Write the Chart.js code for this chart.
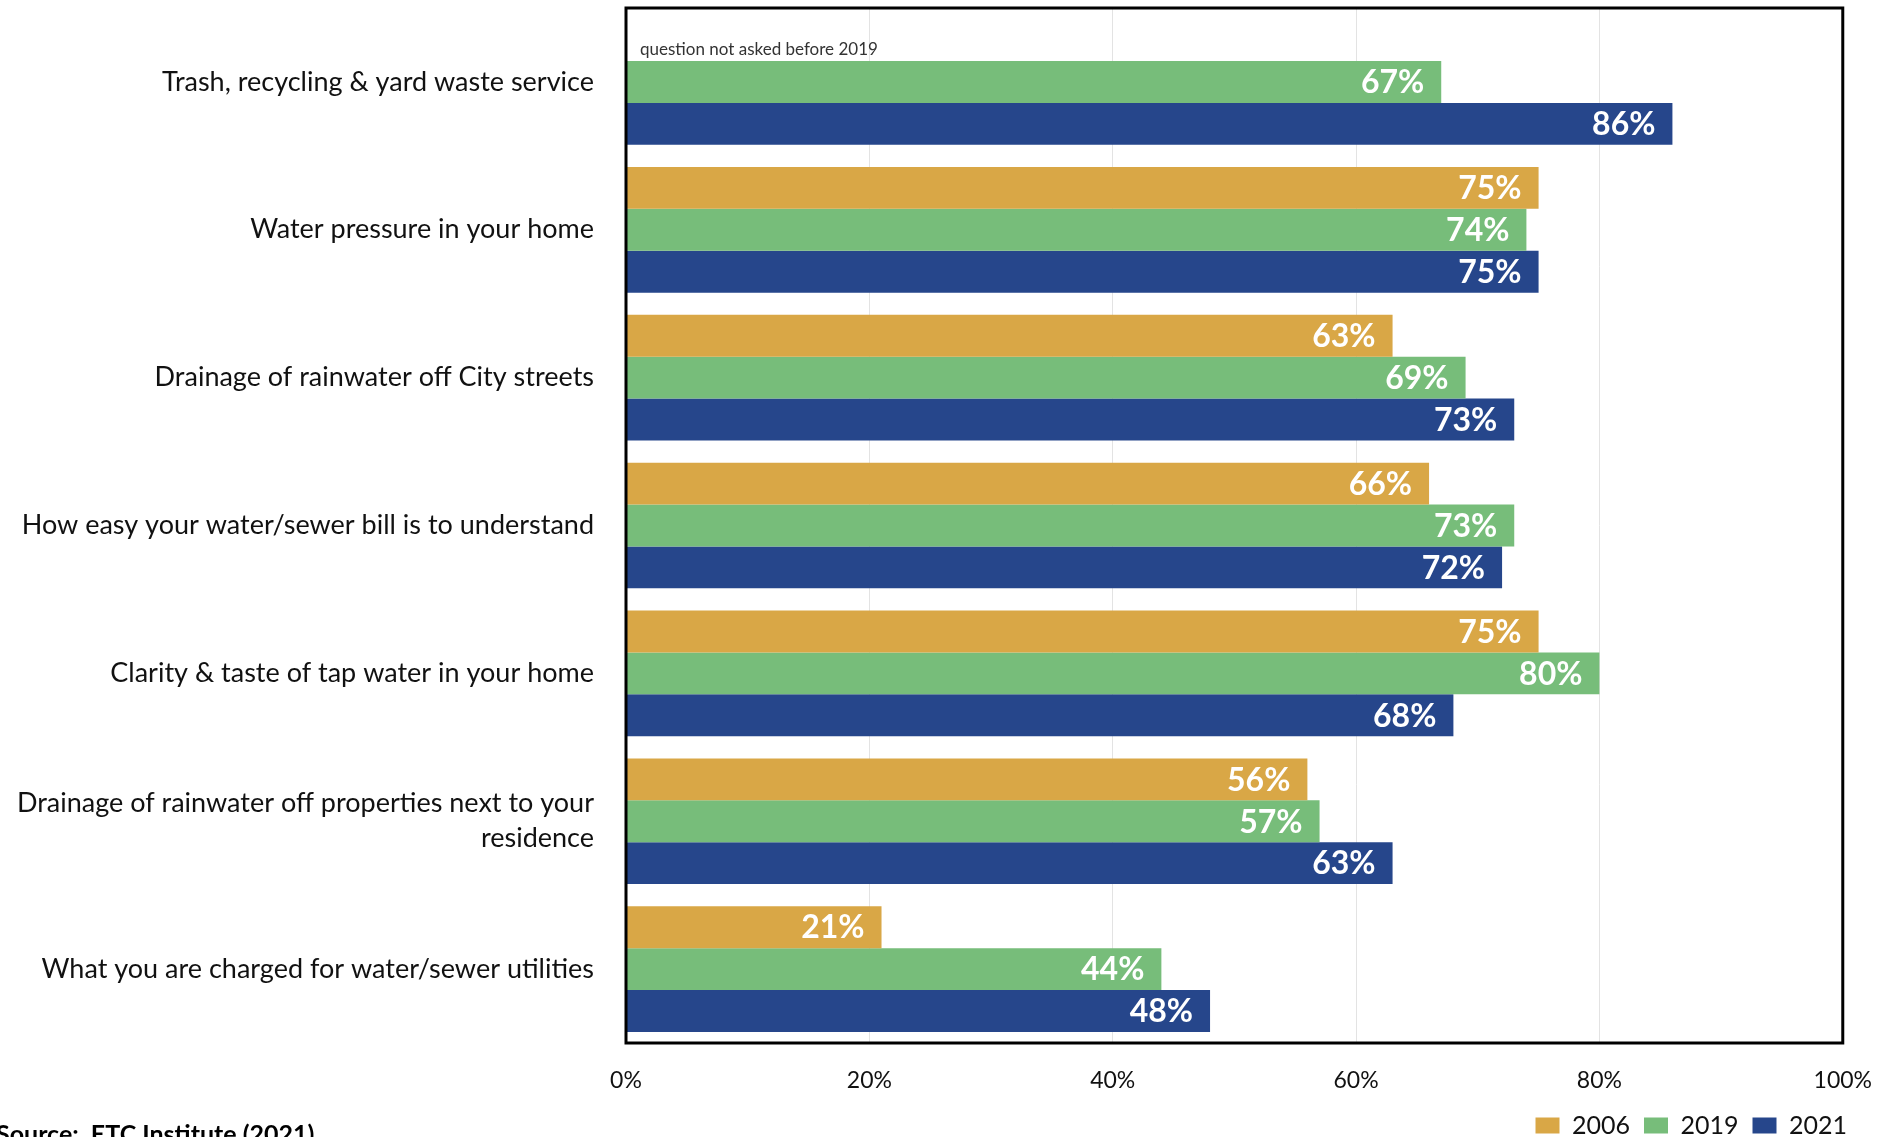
<!DOCTYPE html>
<html>
<head>
<meta charset="utf-8">
<title>Utility services satisfaction</title>
<script src="https://cdn.jsdelivr.net/npm/chart.js@4.4.1/dist/chart.umd.min.js"></script>
<style>
  html, body { margin: 0; padding: 0; background: #fff; }
  #wrap { width: 1896px; height: 1137px; position: relative; }
</style>
</head>
<body>
<div id="wrap"><canvas id="chart"></canvas></div>
<script>
// Services rated, top to bottom
const categories = [
  'Trash, recycling & yard waste service',
  'Water pressure in your home',
  'Drainage of rainwater off City streets',
  'How easy your water/sewer bill is to understand',
  'Clarity & taste of tap water in your home',
  ['Drainage of rainwater off properties next to your', 'residence'],
  'What you are charged for water/sewer utilities',
];

// Percent satisfied by survey year (null = not asked)
const values2006 = [null, 75, 63, 66, 75, 56, 21];
const values2019 = [67, 74, 69, 73, 80, 57, 44];
const values2021 = [86, 75, 73, 72, 68, 63, 48];

const xTicks = [0, 20, 40, 60, 80, 100];

const COLORS = { y2006: '#D9A746', y2019: '#77BD7A', y2021: '#26468B' };
const FONT = 'Lato';

// White value labels inside the end of each bar
const barLabels = {
  id: 'barLabels',
  afterDatasetsDraw(chart) {
    const { ctx } = chart;
    ctx.save();
    ctx.font = `bold 32px ${FONT}`;
    ctx.fillStyle = '#fff';
    ctx.textAlign = 'right';
    ctx.textBaseline = 'middle';
    chart.data.datasets.forEach((ds, i) => {
      const meta = chart.getDatasetMeta(i);
      meta.data.forEach((bar, j) => {
        const v = ds.data[j];
        if (v === null || v === undefined) return;
        ctx.fillText(`${v}%`, bar.x - 17, bar.y + 1);
      });
    });
    ctx.restore();
  },
};

// Push the legend a bit past the plot's right edge
const legendShift = {
  id: 'legendShift',
  afterLayout(chart) {
    if (!chart.legend) return;
    chart.legend.left += 17;
    chart.legend.right += 17;
  },
};

// Plot frame, note and source line
const extras = {
  id: 'extras',
  afterDraw(chart) {
    const { ctx, chartArea: a } = chart;
    ctx.save();
    ctx.strokeStyle = '#000';
    ctx.lineWidth = 3;
    ctx.strokeRect(a.left, a.top, a.right - a.left, a.bottom - a.top);

    const green = chart.getDatasetMeta(1).data[0];
    ctx.font = `17px ${FONT}`;
    ctx.fillStyle = '#333';
    ctx.textAlign = 'left';
    ctx.textBaseline = 'alphabetic';
    ctx.fillText('question not asked before 2019', a.left + 14, green.y - green.height / 2 - 6);

    ctx.font = `bold 25px ${FONT}`;
    ctx.fillStyle = '#000';
    ctx.textBaseline = 'top';
    ctx.fillText('Source:  ETC Institute (2021)', -4, 1122);
    ctx.restore();
  },
};

new Chart(document.getElementById('chart'), {
  type: 'bar',
  data: {
    labels: categories,
    datasets: [
      { label: '2006', data: values2006, backgroundColor: COLORS.y2006 },
      { label: '2019', data: values2019, backgroundColor: COLORS.y2019 },
      { label: '2021', data: values2021, backgroundColor: COLORS.y2021 },
    ],
  },
  options: {
    indexAxis: 'y',
    responsive: true,
    maintainAspectRatio: false,
    animation: false,
    categoryPercentage: 0.85,
    barPercentage: 1.0,
    layout: { padding: { left: 0, right: 52, top: 8, bottom: -11 } },
    scales: {
      x: {
        min: 0,
        max: 100,
        afterBuildTicks: (scale) => { scale.ticks = xTicks.map(v => ({ value: v })); },
        afterFit: (scale) => { scale.height = 56; },
        grid: { color: '#E3E3E3', lineWidth: 1, drawTicks: false },
        border: { display: false },
        ticks: {
          padding: 24,
          color: '#111',
          font: { family: FONT, size: 23 },
          callback: (v) => `${v}%`,
        },
      },
      y: {
        afterFit: (scale) => {
          scale.width = 626;
          scale.paddingTop = 0;
          scale.paddingBottom = 0;
        },
        grid: { display: false, drawTicks: false },
        border: { display: false },
        ticks: {
          padding: 32,
          autoSkip: false,
          color: '#111',
          font: { family: FONT, size: 27, lineHeight: 1.3 },
        },
      },
    },
    plugins: {
      legend: {
        position: 'bottom',
        align: 'end',
        labels: {
          boxWidth: 24,
          boxHeight: 16,
          color: '#111',
          font: { family: FONT, size: 25 },
          padding: 14,
        },
      },
      tooltip: { enabled: false },
    },
  },
  plugins: [barLabels, legendShift, extras],
});
</script>
</body>
</html>
